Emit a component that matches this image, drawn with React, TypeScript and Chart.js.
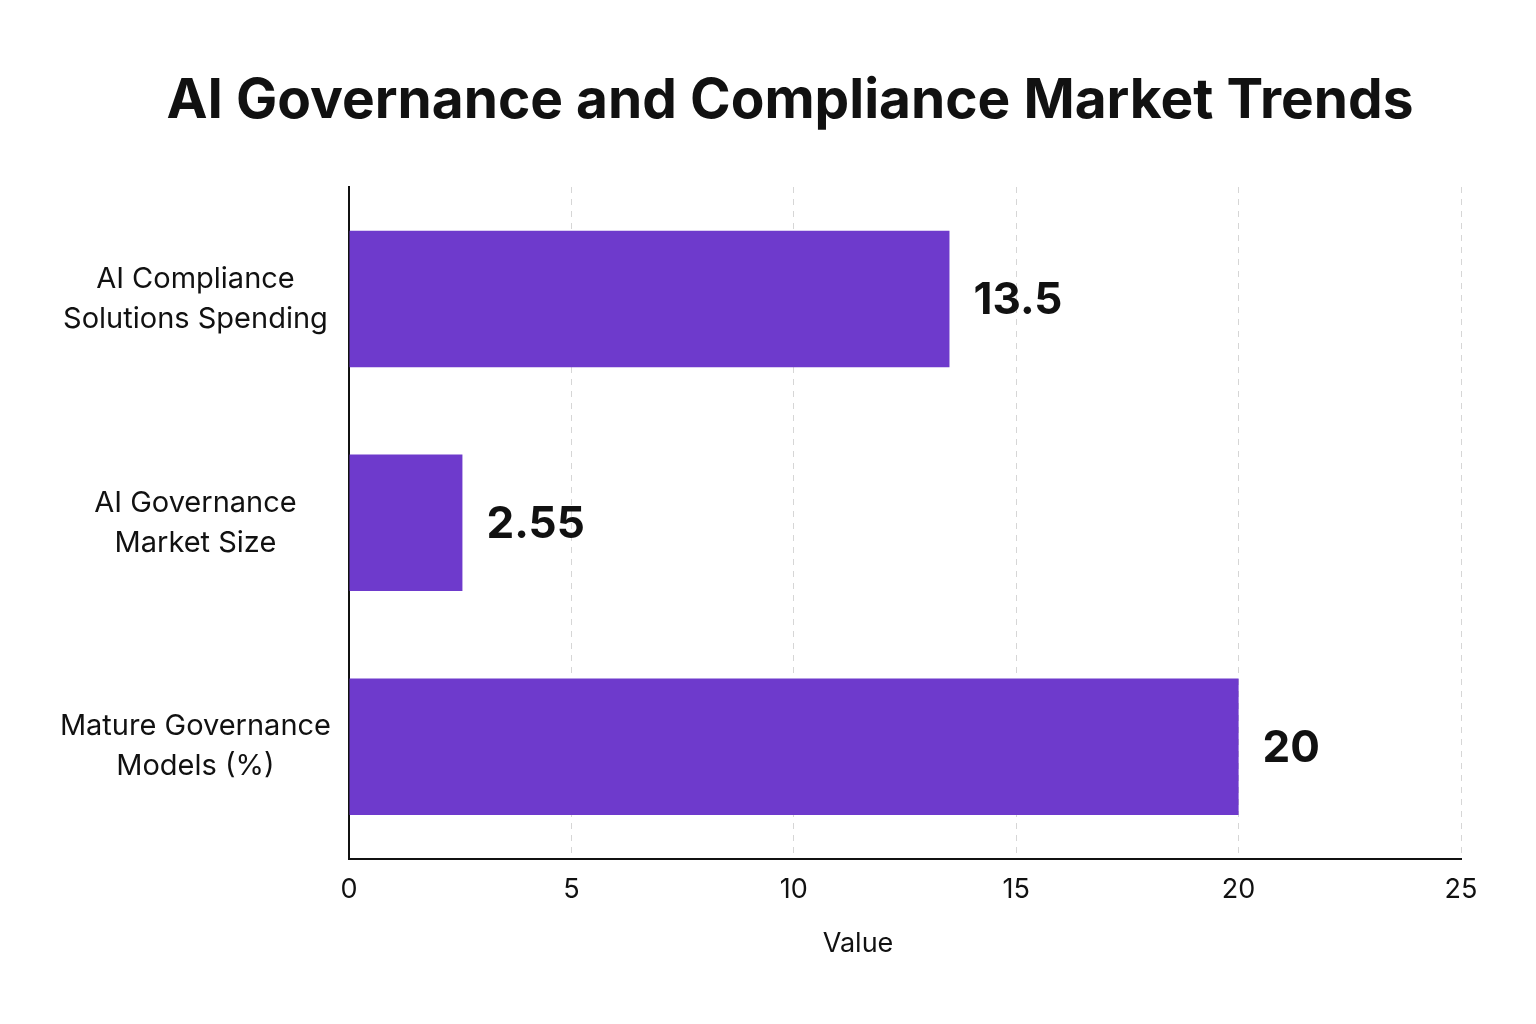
import React, { useEffect, useRef } from "react";
import { Chart, registerables } from "chart.js";

Chart.register(...registerables);

const titleText = "AI Governance and Compliance Market Trends";
const xAxisTitle = "Value";
const categories: string[][] = [
  ["AI Compliance", "Solutions Spending"],
  ["AI Governance", "Market Size"],
  ["Mature Governance", "Models (%)"],
];
const values: number[] = [13.5, 2.55, 20];
const valueLabels: string[] = ["13.5", "2.55", "20"];
const xTicks: number[] = [0, 5, 10, 15, 20, 25];

const FONT = "Inter, 'Liberation Sans', sans-serif";

const valueLabelPlugin = {
  id: "valueLabels",
  afterDatasetsDraw(chart: any) {
    const ctx = chart.ctx;
    const meta = chart.getDatasetMeta(0);
    ctx.save();
    ctx.font = `bold 44px ${FONT}`;
    ctx.fillStyle = "#111111";
    ctx.textAlign = "left";
    ctx.textBaseline = "middle";
    meta.data.forEach((bar: any, i: number) => {
      ctx.fillText(valueLabels[i], bar.x + 24, bar.y + 2);
    });
    ctx.restore();
  },
};

const textPlugin = {
  id: "titles",
  afterDraw(chart: any) {
    const ctx = chart.ctx;
    ctx.save();
    ctx.fillStyle = "#111111";
    ctx.textAlign = "center";
    ctx.textBaseline = "middle";
    ctx.font = `bold 55px ${FONT}`;
    ctx.fillText(titleText, 790, 101);
    ctx.font = `27px ${FONT}`;
    ctx.fillText(xAxisTitle, 858, 944);
    ctx.restore();
  },
};

export default function App() {
  const ref = useRef<HTMLCanvasElement | null>(null);
  useEffect(() => {
    document.body.style.margin = "0";
    document.body.style.background = "#ffffff";
    const chart = new Chart(ref.current as HTMLCanvasElement, {
      type: "bar",
      data: {
        labels: categories,
        datasets: [
          {
            data: values,
            backgroundColor: "#6E3ACC",
            borderWidth: 0,
            barPercentage: 0.61,
            categoryPercentage: 1,
          },
        ],
      },
      plugins: [valueLabelPlugin, textPlugin],
      options: {
        indexAxis: "y",
        animation: false,
        responsive: false,
        devicePixelRatio: 1,
        layout: { padding: { left: 30, right: 75, top: 187, bottom: 103 } },
        plugins: {
          legend: { display: false },
          tooltip: { enabled: false },
          title: { display: false },
        },
        scales: {
          x: {
            type: "linear",
            min: 0,
            max: 25,
            afterBuildTicks: (scale: any) => {
              scale.ticks = xTicks.map((v) => ({ value: v }));
            },
            grid: {
              color: "#d6d6d6",
              lineWidth: 1,
              drawTicks: false,
            },
            border: { display: true, color: "#111111", width: 2, dash: [6, 6] },
            ticks: {
              color: "#111111",
              padding: 15,
              font: { family: FONT, size: 27 },
            },
            title: { display: false },
          },
          y: {
            grid: { display: false, drawTicks: false },
            border: { display: true, color: "#111111", width: 2 },
            afterFit: (scale: any) => {
              scale.width = 319;
            },
            ticks: {
              color: "#111111",
              crossAlign: "center",
              padding: 18,
              font: { family: FONT, size: 29, lineHeight: 1.38 },
            },
          },
        },
      } as any,
    });
    return () => chart.destroy();
  }, []);
  return (
    <div style={{ position: "relative", width: 1536, height: 1024, background: "#ffffff" }}>
      <canvas ref={ref} width={1536} height={1024} style={{ display: "block", width: 1536, height: 1024 }} />
    </div>
  );
}
